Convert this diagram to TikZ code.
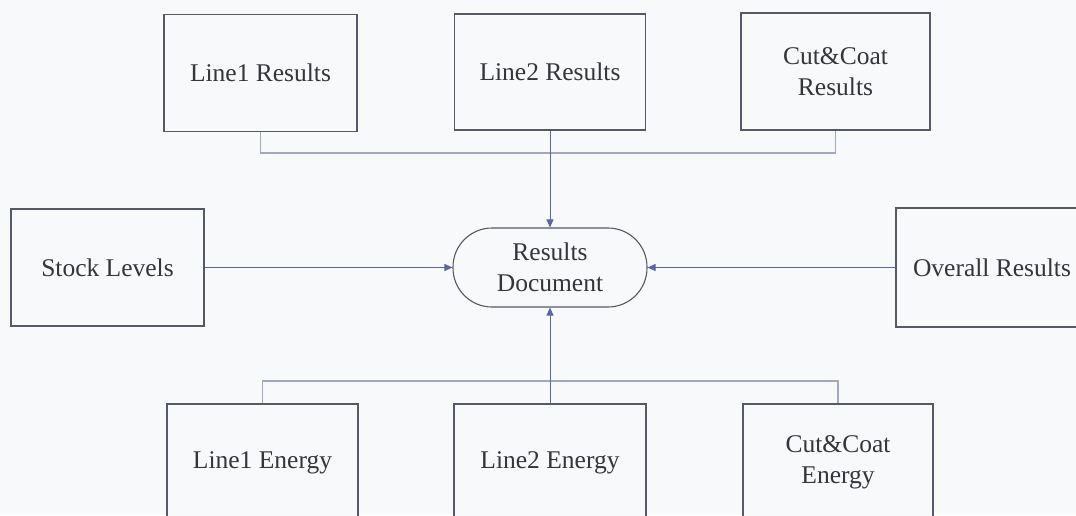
\documentclass[tikz,border=0pt]{standalone}
\usepackage{fontspec}
\setmainfont{Liberation Serif}
\usetikzlibrary{arrows.meta}
\definecolor{paper}{HTML}{F7F9FA}
\definecolor{boxline}{HTML}{555969}
\definecolor{txt}{HTML}{35353C}
\definecolor{flow}{HTML}{5B66A8}
\definecolor{bus}{HTML}{A2A8C4}
\begin{document}
\begin{tikzpicture}[x=1pt,y=-1pt,
  every node/.style={font=\fontsize{25.5}{31}\selectfont, text=txt, align=center},
  block/.style={draw=boxline, line width=1.1pt, fill=paper, inner sep=0pt},
  hub/.style={draw=boxline, line width=1.1pt, fill=paper, inner sep=0pt,
    minimum width=194pt, minimum height=79pt, rounded corners=39pt},
  feed/.style={draw=flow, line width=0.9pt, -{Triangle[length=8pt,width=7pt]}},
  busline/.style={draw=bus, line width=1.2pt}]
\fill[paper] (0,0) rectangle (1076,515);
\useasboundingbox (0,0) rectangle (1076,515);

% results document in the centre
\node[hub] (doc) at (550,267.5) {Results\\Document};

% upper row
\node[block, minimum width=193pt, minimum height=117pt] (l1r) at (260.5,73) {Line1 Results};
\node[block, minimum width=191pt, minimum height=116pt] (l2r) at (550,72) {Line2 Results};
\node[block, minimum width=189pt, minimum height=117pt] (ccr) at (835.5,71.5) {Cut\&Coat\\Results};

% side boxes
\node[block, minimum width=193pt, minimum height=117pt] (stock) at (107.5,267.5) {Stock Levels};
\node[block, minimum width=192pt, minimum height=119pt] (overall) at (992,267.5) {Overall Results};

% lower row
\node[block, minimum width=191pt, minimum height=117pt] (l1e) at (262.5,462.5) {Line1 Energy};
\node[block, minimum width=192pt, minimum height=117pt] (l2e) at (550,462.5) {Line2 Energy};
\node[block, minimum width=190pt, minimum height=117pt] (cce) at (838,462.5) {Cut\&Coat\\Energy};

% bus lines joining the outer boxes of each row
\coordinate (topbus) at (550,153);
\coordinate (botbus) at (550,381);
\draw[busline] (l1r.south) |- (topbus) -| (ccr.south);
\draw[busline] (l1e.north) |- (botbus) -| (cce.north);

% flows into the results document
\draw[feed] (l2r.south) -- (doc.north);
\draw[feed] (l2e.north) -- (doc.south);
\draw[feed] (stock.east) -- (doc.west);
\draw[feed] (overall.west) -- (doc.east);
\end{tikzpicture}
\end{document}
